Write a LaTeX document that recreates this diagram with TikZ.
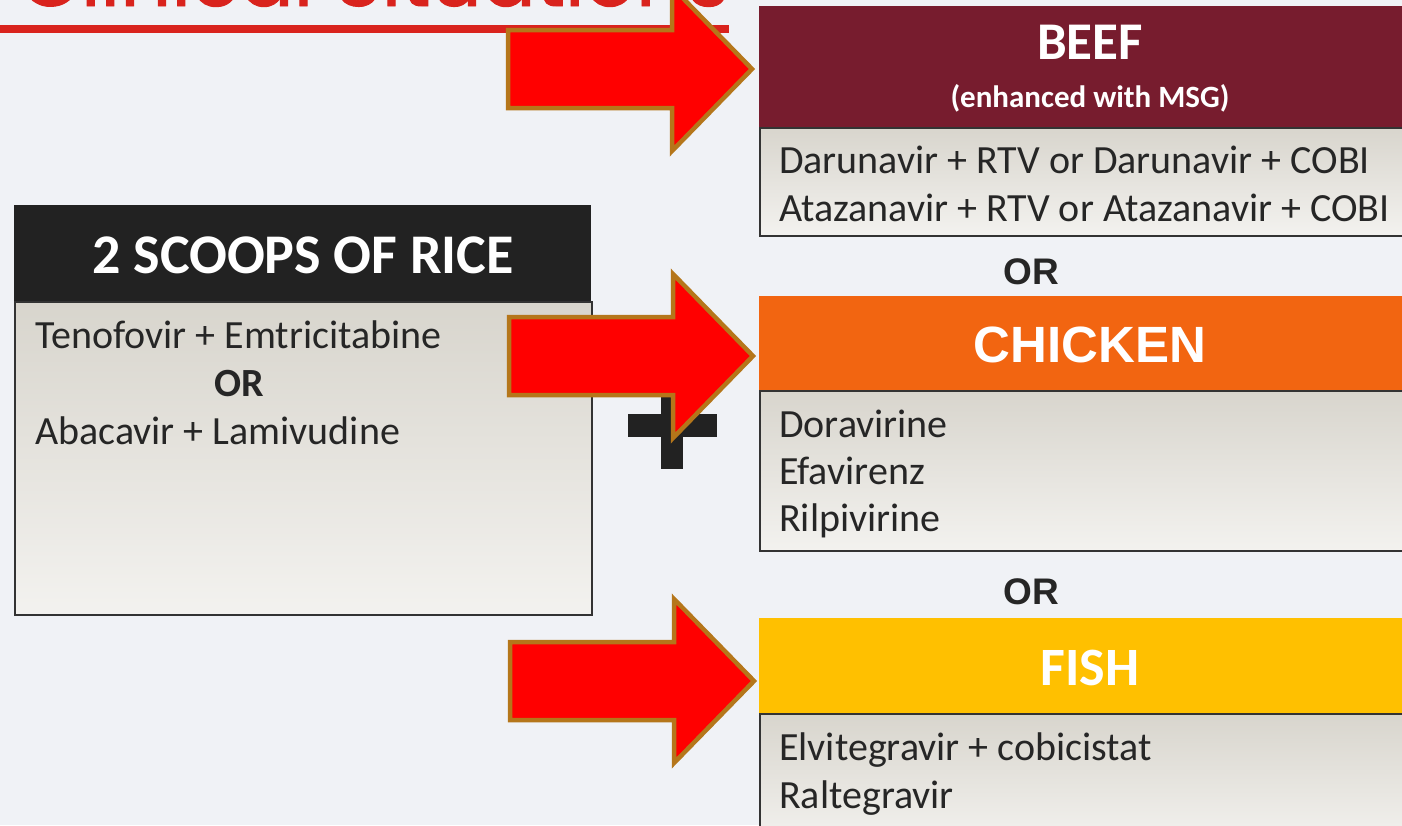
\documentclass[tikz,border=0pt]{standalone}
\usepackage{fontspec}
\setmainfont{Carlito}
\newfontfamily\arialfont{Liberation Sans}
\newfontfamily\titlefont{Poppins}[FakeBold=1.2]
\usetikzlibrary{positioning}

\definecolor{bgpale}{HTML}{F0F2F6}
\definecolor{titlered}{HTML}{D9231D}
\definecolor{riceblack}{HTML}{222222}
\definecolor{beefred}{HTML}{771C2E}
\definecolor{chickenorange}{HTML}{F26511}
\definecolor{fishgold}{HTML}{FFC000}
\definecolor{boxtop}{HTML}{D8D5CD}
\definecolor{boxbottom}{HTML}{F3F2EF}
\definecolor{boxline}{HTML}{333333}
\definecolor{itemgray}{HTML}{262626}
\definecolor{arrowgold}{HTML}{B5761A}

\tikzset{
	headbox/.style={rectangle, inner sep=0pt, anchor=north west, minimum width=662, minimum height=95},
	listbox/.style={rectangle, draw=boxline, line width=1.6pt, top color=boxtop, bottom color=boxbottom, inner sep=0pt, anchor=north west},
	headtext/.style={anchor=base, inner sep=0pt, text=white, font=\bfseries\fontsize{54}{60}\selectfont},
	item/.style={anchor=base west, inner sep=0pt, text=itemgray, font=\fontsize{40}{48}\selectfont},
	orlabel/.style={anchor=base, inner sep=0pt, text=itemgray, font=\arialfont\bfseries\fontsize{37}{44}\selectfont},
	blockarrow/.style={fill=red, draw=arrowgold, line width=4.5pt, line join=miter},
}

% big red arrow, #1 = middle of its tail
\newcommand{\foodarrow}[1]{%
	\draw[blockarrow] (#1) ++(0,-39) -- ++(164,0) -- ++(0,-43) -- ++(80,82)
		-- ++(-80,82) -- ++(0,-43) -- ++(-164,0) -- cycle;}

\begin{document}
\begin{tikzpicture}[x=1pt, y=-1pt]
	\useasboundingbox (0,0) rectangle (1402,825);
	\clip (0,0) rectangle (1402,825);
	\fill[bgpale] (0,0) rectangle (1402,825);

	% title, only its lower part shows
	\node[anchor=base east, inner sep=0pt, text=titlered, font=\titlefont\fontsize{80}{90}\selectfont] (title) at (729,6) {Clinical Situations};
	\draw[titlered, line width=8pt] (0,29) -- (title.base east |- 0,29);

	% rice
	\node[headbox, fill=riceblack, minimum width=577, minimum height=96] (ricehead) at (14,205) {};
	\node[headtext, font=\bfseries\fontsize{56}{60}\selectfont] (ricetitle) at (303,273) {2 SCOOPS OF RICE};
	\node[listbox, minimum width=577, minimum height=313] (ricebody) at (14,301) {};
	\node[item] (tenofovir) at (35,348) {Tenofovir + Emtricitabine};
	\node[item, anchor=base, font=\bfseries\fontsize{40}{48}\selectfont] (riceor) at (239,396) {OR};
	\node[item] (abacavir) at (35,444) {Abacavir + Lamivudine};

	% beef
	\node[headbox, fill=beefred, minimum height=121] (beefhead) at (759,6) {};
	\node[headtext, font=\bfseries\fontsize{53}{60}\selectfont] (beeftitle) at (1090,59) {BEEF};
	\node[headtext, font=\bfseries\fontsize{31}{36}\selectfont] (msg) at (1090,107) {(enhanced with MSG)};
	\node[listbox, minimum width=662, minimum height=108] (beefbody) at (759,127) {};
	\node[item] (darunavir) at (779,173) {Darunavir + RTV or Darunavir + COBI};
	\node[item] (atazanavir) at (779,221) {Atazanavir + RTV or Atazanavir + COBI};

	\node[orlabel] (or1) at (1031,284) {OR};

	% chicken
	\node[headbox, fill=chickenorange, minimum height=94] (chickenhead) at (759,296) {};
	\node[headtext, font=\arialfont\bfseries\fontsize{51}{60}\selectfont] (chickentitle) at (1090,362) {CHICKEN};
	\node[listbox, minimum width=662, minimum height=160] (chickenbody) at (759,390) {};
	\node[item] (doravirine) at (779,437) {Doravirine};
	\node[item] (efavirenz) at (779,484) {Efavirenz};
	\node[item] (rilpivirine) at (779,531) {Rilpivirine};

	\node[orlabel] (or2) at (1031,604) {OR};

	% fish
	\node[headbox, fill=fishgold, minimum height=95] (fishhead) at (759,618) {};
	\node[headtext] (fishtitle) at (1090,685) {FISH};
	\node[listbox, minimum width=662, minimum height=130] (fishbody) at (759,713) {};
	\node[item] (elvitegravir) at (779,760) {Elvitegravir + cobicistat};
	\node[item] (raltegravir) at (779,808) {Raltegravir};

	% plus
	\fill[riceblack] (628,414) rectangle (717,437);
	\fill[riceblack] (661,381) rectangle (683,469);

	% arrows
	\coordinate (tail1) at (508,69);
	\coordinate (tail2) at (509,356);
	\coordinate (tail3) at (510,681);
	\foodarrow{tail1}
	\foodarrow{tail2}
	\foodarrow{tail3}
\end{tikzpicture}
\end{document}
